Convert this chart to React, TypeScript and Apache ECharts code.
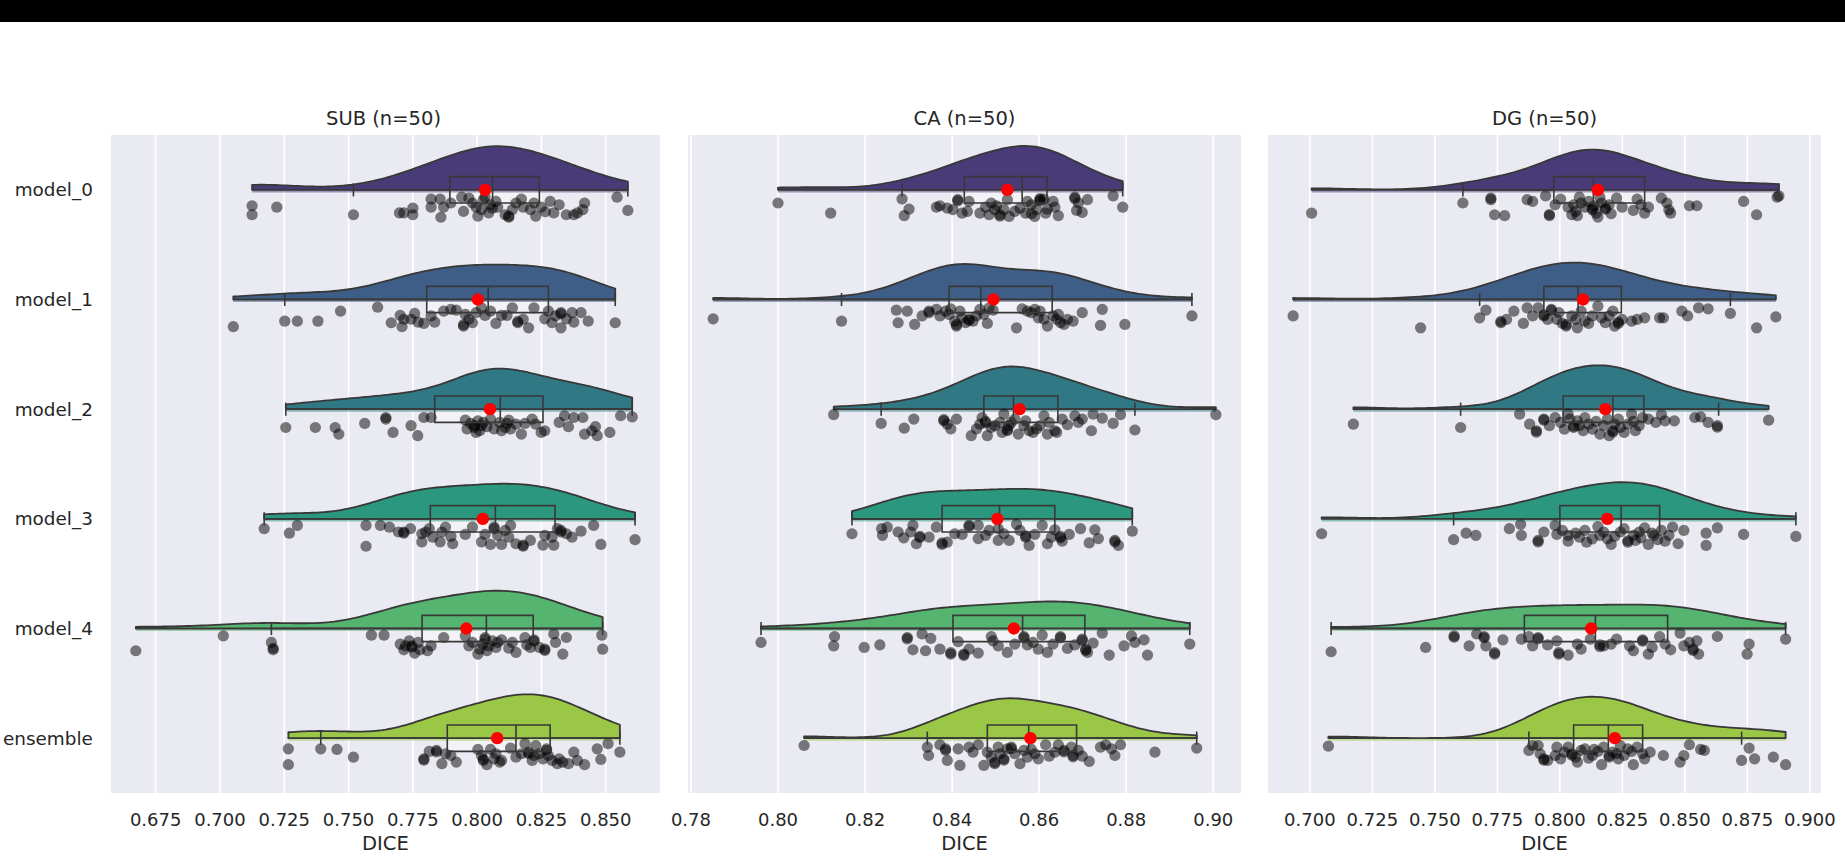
import React, { useEffect, useRef } from "react";
import * as echarts from "echarts";

const CATEGORIES = ["model_0", "model_1", "model_2", "model_3", "model_4", "ensemble"];
const PANEL_TITLES = ["SUB (n=50)", "CA (n=50)", "DG (n=50)"];
const X_LABEL = "DICE";
const SUB_TICKS = [0.675, 0.7, 0.725, 0.75, 0.775, 0.8, 0.825, 0.85];
const CA_TICKS = [0.78, 0.8, 0.82, 0.84, 0.86, 0.88, 0.9];
const DG_TICKS = [0.7, 0.725, 0.75, 0.775, 0.8, 0.825, 0.85, 0.875, 0.9];
const PALETTE = ["#483b78", "#3f5e87", "#307984", "#2c977f", "#55b46f", "#9bc746"];

// [DICE value, jitter below the category line (fraction of band)]
const SUB_M0 = [[0.7125,0.145],[0.7125,0.227],[0.7221,0.158],[0.7519,0.227],[0.7698,0.21],[0.7715,0.21],[0.775,0.167],[0.775,0.227],[0.7821,0.085],[0.7821,0.158],[0.7856,0.085],[0.7859,0.25],[0.787,0.158],[0.7898,0.12],[0.794,0.067],[0.7947,0.197],[0.7968,0.076],[0.7982,0.12],[0.7996,0.158],[0.8003,0.24],[0.8017,0.18],[0.8024,0.09],[0.8031,0.067],[0.8045,0.21],[0.8052,0.136],[0.8059,0.167],[0.8073,0.106],[0.808,0.158],[0.8109,0.227],[0.8123,0.25],[0.8123,0.24],[0.8137,0.18],[0.8151,0.12],[0.8172,0.085],[0.8179,0.158],[0.8207,0.18],[0.8221,0.12],[0.8228,0.24],[0.8249,0.158],[0.8265,0.2],[0.8284,0.106],[0.8298,0.21],[0.8319,0.136],[0.8347,0.227],[0.8376,0.227],[0.839,0.21],[0.8411,0.18],[0.8418,0.12],[0.8544,0.067],[0.8586,0.188]];
const SUB_M1 = [[0.7052,0.248],[0.7252,0.197],[0.7301,0.197],[0.7381,0.197],[0.7469,0.106],[0.7613,0.07],[0.7666,0.212],[0.7701,0.145],[0.7708,0.248],[0.7715,0.18],[0.7743,0.18],[0.7757,0.127],[0.7771,0.206],[0.7793,0.218],[0.7821,0.15],[0.7835,0.206],[0.787,0.106],[0.7898,0.09],[0.7919,0.097],[0.7947,0.242],[0.7947,0.23],[0.7954,0.136],[0.7968,0.18],[0.7982,0.212],[0.7996,0.12],[0.8017,0.076],[0.8031,0.145],[0.8052,0.106],[0.8073,0.218],[0.8095,0.145],[0.8116,0.145],[0.8137,0.076],[0.8158,0.212],[0.8158,0.2],[0.8179,0.18],[0.82,0.258],[0.8221,0.076],[0.8263,0.176],[0.8277,0.106],[0.8291,0.212],[0.8305,0.15],[0.8326,0.12],[0.8326,0.13],[0.8326,0.258],[0.8347,0.176],[0.8369,0.12],[0.8376,0.206],[0.8404,0.12],[0.8432,0.197],[0.8537,0.212]];
const SUB_M2 = [[0.7256,0.167],[0.7371,0.167],[0.7448,0.167],[0.7462,0.227],[0.7563,0.13],[0.7645,0.076],[0.7645,0.09],[0.7673,0.212],[0.7743,0.15],[0.7769,0.242],[0.7793,0.076],[0.7821,0.076],[0.7954,0.1],[0.7961,0.18],[0.7975,0.13],[0.7989,0.167],[0.7989,0.15],[0.7996,0.212],[0.8003,0.106],[0.801,0.197],[0.8017,0.15],[0.8024,0.12],[0.8038,0.16],[0.8052,0.09],[0.8066,0.18],[0.8088,0.12],[0.8095,0.197],[0.8109,0.167],[0.8116,0.13],[0.8123,0.1],[0.813,0.18],[0.8151,0.136],[0.8172,0.227],[0.8186,0.13],[0.8214,0.09],[0.8228,0.136],[0.8249,0.212],[0.8263,0.197],[0.8319,0.12],[0.834,0.06],[0.8355,0.16],[0.8376,0.076],[0.8411,0.076],[0.8418,0.227],[0.8446,0.197],[0.846,0.16],[0.8467,0.242],[0.8516,0.212],[0.8558,0.06],[0.8603,0.07]];
const SUB_M3 = [[0.7172,0.09],[0.727,0.13],[0.7301,0.06],[0.7568,0.06],[0.7568,0.25],[0.7624,0.06],[0.7659,0.076],[0.7694,0.12],[0.7715,0.12],[0.7715,0.13],[0.7741,0.09],[0.7785,0.136],[0.7785,0.21],[0.78,0.12],[0.7814,0.09],[0.7828,0.167],[0.7856,0.21],[0.7863,0.12],[0.7877,0.076],[0.7898,0.16],[0.7905,0.227],[0.7954,0.142],[0.7982,0.076],[0.8017,0.21],[0.8031,0.142],[0.8052,0.233],[0.8066,0.076],[0.8066,0.09],[0.808,0.15],[0.8095,0.233],[0.8109,0.106],[0.8123,0.167],[0.813,0.06],[0.8151,0.227],[0.8179,0.25],[0.8179,0.24],[0.8207,0.197],[0.8256,0.24],[0.8263,0.15],[0.8291,0.167],[0.8298,0.24],[0.8312,0.09],[0.8326,0.12],[0.8326,0.106],[0.8347,0.136],[0.8369,0.167],[0.8404,0.112],[0.8453,0.06],[0.8481,0.233],[0.8614,0.19]];
const SUB_M4 = [[0.6673,0.203],[0.7013,0.067],[0.72,0.127],[0.7207,0.18],[0.7207,0.194],[0.7589,0.06],[0.7638,0.06],[0.7701,0.142],[0.7715,0.194],[0.7722,0.158],[0.7736,0.112],[0.7746,0.158],[0.7746,0.17],[0.7757,0.224],[0.7771,0.127],[0.7778,0.194],[0.7807,0.203],[0.7821,0.158],[0.787,0.082],[0.7954,0.067],[0.7968,0.158],[0.7982,0.127],[0.8003,0.233],[0.801,0.188],[0.8022,0.142],[0.8031,0.082],[0.8031,0.1],[0.8038,0.203],[0.8045,0.158],[0.8059,0.112],[0.8073,0.173],[0.808,0.127],[0.8095,0.103],[0.8123,0.18],[0.8137,0.127],[0.8151,0.218],[0.8186,0.082],[0.8193,0.15],[0.8207,0.173],[0.8221,0.103],[0.8221,0.115],[0.8242,0.173],[0.8263,0.188],[0.8263,0.2],[0.8298,0.05],[0.8305,0.127],[0.8333,0.233],[0.8347,0.082],[0.8485,0.06],[0.8488,0.188]];
const SUB_ENS = [[0.7266,0.097],[0.7266,0.242],[0.7392,0.097],[0.7455,0.103],[0.7519,0.173],[0.7793,0.188],[0.7793,0.2],[0.7814,0.12],[0.7842,0.112],[0.7842,0.125],[0.7863,0.233],[0.7877,0.142],[0.7898,0.158],[0.7919,0.218],[0.8003,0.103],[0.8017,0.158],[0.8024,0.203],[0.8024,0.19],[0.8038,0.242],[0.8052,0.103],[0.8066,0.188],[0.8073,0.142],[0.8088,0.218],[0.8095,0.203],[0.813,0.09],[0.8151,0.173],[0.8172,0.142],[0.8186,0.05],[0.82,0.127],[0.82,0.14],[0.8214,0.203],[0.8221,0.158],[0.8228,0.067],[0.8242,0.142],[0.8256,0.188],[0.827,0.097],[0.827,0.11],[0.8277,0.158],[0.8291,0.203],[0.8312,0.233],[0.8319,0.188],[0.8333,0.218],[0.8355,0.233],[0.8376,0.127],[0.839,0.203],[0.8418,0.242],[0.8467,0.097],[0.8481,0.194],[0.8509,0.05],[0.8555,0.127]];

const CA_M0 = [[0.8,0.12],[0.8121,0.212],[0.8285,0.082],[0.829,0.236],[0.8301,0.176],[0.8364,0.158],[0.8372,0.145],[0.8389,0.167],[0.8402,0.18],[0.8413,0.09],[0.8413,0.1],[0.8423,0.212],[0.8435,0.197],[0.8439,0.106],[0.8464,0.212],[0.8477,0.158],[0.8485,0.227],[0.849,0.12],[0.8498,0.18],[0.8502,0.145],[0.851,0.227],[0.851,0.24],[0.8519,0.18],[0.8527,0.09],[0.8531,0.242],[0.8544,0.197],[0.8556,0.167],[0.8569,0.212],[0.8573,0.106],[0.8582,0.218],[0.8582,0.136],[0.859,0.242],[0.8594,0.18],[0.8602,0.09],[0.8602,0.1],[0.8602,0.08],[0.8611,0.085],[0.8615,0.212],[0.8619,0.176],[0.8632,0.106],[0.8636,0.158],[0.8644,0.236],[0.8682,0.067],[0.8682,0.08],[0.8686,0.188],[0.869,0.12],[0.8699,0.206],[0.8711,0.09],[0.877,0.055],[0.8792,0.158]];
const CA_M1 = [[0.7851,0.176],[0.8146,0.197],[0.8272,0.097],[0.8276,0.212],[0.8297,0.106],[0.8314,0.227],[0.8331,0.15],[0.8347,0.106],[0.8347,0.12],[0.8364,0.09],[0.8372,0.15],[0.8385,0.106],[0.8393,0.136],[0.8397,0.085],[0.8406,0.197],[0.841,0.242],[0.841,0.23],[0.8418,0.106],[0.8423,0.167],[0.8431,0.212],[0.8439,0.18],[0.8439,0.19],[0.8448,0.197],[0.8456,0.15],[0.8464,0.09],[0.8473,0.136],[0.8481,0.218],[0.8485,0.076],[0.8494,0.097],[0.8548,0.258],[0.8561,0.085],[0.8573,0.106],[0.8582,0.12],[0.859,0.09],[0.8598,0.167],[0.8602,0.106],[0.8611,0.18],[0.8619,0.242],[0.8632,0.15],[0.864,0.18],[0.8644,0.136],[0.8649,0.212],[0.8657,0.227],[0.8665,0.18],[0.8678,0.197],[0.8699,0.12],[0.8741,0.236],[0.8745,0.09],[0.8797,0.227],[0.8951,0.15]];
const CA_M2 = [[0.8128,0.05],[0.8237,0.13],[0.829,0.173],[0.8312,0.09],[0.8381,0.106],[0.8381,0.095],[0.8389,0.136],[0.8397,0.18],[0.841,0.09],[0.8444,0.242],[0.8456,0.18],[0.8464,0.136],[0.8469,0.076],[0.8477,0.112],[0.8477,0.125],[0.8481,0.242],[0.849,0.167],[0.8498,0.15],[0.851,0.12],[0.8515,0.212],[0.8519,0.045],[0.8527,0.197],[0.8527,0.185],[0.8531,0.15],[0.8536,0.12],[0.8544,0.09],[0.8552,0.227],[0.8565,0.15],[0.8569,0.106],[0.8577,0.197],[0.8586,0.212],[0.8594,0.18],[0.8602,0.15],[0.8611,0.06],[0.8619,0.227],[0.8623,0.12],[0.8636,0.197],[0.864,0.212],[0.8653,0.09],[0.8665,0.142],[0.8682,0.06],[0.869,0.12],[0.8699,0.09],[0.872,0.197],[0.8724,0.045],[0.8745,0.082],[0.877,0.13],[0.8787,0.05],[0.882,0.19],[0.9006,0.05]];
const CA_M3 = [[0.817,0.136],[0.8238,0.09],[0.824,0.15],[0.8251,0.076],[0.8276,0.12],[0.8289,0.173],[0.8305,0.12],[0.831,0.06],[0.8318,0.227],[0.8326,0.16],[0.8326,0.17],[0.8347,0.167],[0.8364,0.076],[0.8377,0.233],[0.8377,0.22],[0.8389,0.212],[0.8406,0.136],[0.8423,0.142],[0.8439,0.06],[0.8439,0.07],[0.846,0.06],[0.846,0.18],[0.8477,0.15],[0.8485,0.106],[0.8506,0.09],[0.8506,0.197],[0.8519,0.136],[0.8531,0.197],[0.8548,0.05],[0.8556,0.106],[0.8569,0.167],[0.8569,0.155],[0.8577,0.242],[0.859,0.142],[0.8607,0.06],[0.8619,0.227],[0.8628,0.167],[0.8636,0.1],[0.8649,0.173],[0.8649,0.16],[0.8653,0.203],[0.8669,0.142],[0.8695,0.09],[0.8715,0.22],[0.8728,0.1],[0.8736,0.18],[0.8774,0.197],[0.8774,0.21],[0.8782,0.242],[0.8814,0.112]];
const CA_M4 = [[0.7961,0.127],[0.8128,0.158],[0.813,0.073],[0.8198,0.173],[0.8234,0.15],[0.8297,0.082],[0.8297,0.095],[0.831,0.194],[0.8331,0.05],[0.8339,0.203],[0.8351,0.09],[0.8372,0.188],[0.8397,0.233],[0.8397,0.22],[0.8414,0.12],[0.8427,0.233],[0.8427,0.245],[0.8439,0.188],[0.846,0.224],[0.849,0.073],[0.8494,0.112],[0.8506,0.158],[0.8527,0.218],[0.8544,0.142],[0.8565,0.073],[0.8565,0.085],[0.8573,0.15],[0.8586,0.127],[0.8598,0.188],[0.8607,0.06],[0.8619,0.218],[0.8632,0.142],[0.8649,0.073],[0.8649,0.085],[0.8665,0.182],[0.8682,0.15],[0.8699,0.097],[0.8699,0.11],[0.8707,0.188],[0.8707,0.2],[0.8711,0.218],[0.8724,0.133],[0.8745,0.042],[0.8761,0.242],[0.8795,0.158],[0.8812,0.067],[0.882,0.127],[0.8841,0.103],[0.8849,0.242],[0.8946,0.142]];
const CA_ENS = [[0.806,0.067],[0.8343,0.082],[0.8346,0.158],[0.8372,0.06],[0.8385,0.097],[0.8385,0.11],[0.8389,0.203],[0.8414,0.097],[0.8418,0.248],[0.8439,0.082],[0.8448,0.127],[0.846,0.06],[0.8473,0.248],[0.8481,0.127],[0.849,0.173],[0.8498,0.233],[0.8498,0.22],[0.8506,0.082],[0.851,0.142],[0.8519,0.188],[0.8519,0.2],[0.8527,0.097],[0.8536,0.082],[0.8536,0.095],[0.8544,0.142],[0.8556,0.233],[0.8565,0.112],[0.8573,0.173],[0.8582,0.103],[0.859,0.142],[0.8598,0.188],[0.8615,0.06],[0.8623,0.164],[0.8636,0.127],[0.8644,0.06],[0.8657,0.112],[0.8657,0.125],[0.8674,0.082],[0.8678,0.158],[0.8678,0.17],[0.869,0.112],[0.8699,0.164],[0.8715,0.212],[0.8741,0.082],[0.8753,0.06],[0.8766,0.097],[0.8774,0.158],[0.8787,0.06],[0.8866,0.127],[0.8962,0.09]];

const DG_M0 = [[0.7007,0.212],[0.7612,0.12],[0.7724,0.076],[0.7724,0.09],[0.7739,0.227],[0.7779,0.236],[0.7869,0.09],[0.7891,0.106],[0.7943,0.055],[0.7958,0.236],[0.7958,0.225],[0.7981,0.136],[0.8003,0.085],[0.8033,0.158],[0.8048,0.227],[0.8055,0.136],[0.8063,0.197],[0.807,0.236],[0.8078,0.067],[0.8085,0.12],[0.81,0.158],[0.8115,0.106],[0.813,0.182],[0.813,0.17],[0.8137,0.145],[0.8145,0.212],[0.8152,0.248],[0.816,0.067],[0.8167,0.12],[0.8182,0.176],[0.8182,0.165],[0.8197,0.136],[0.8205,0.218],[0.8227,0.076],[0.8249,0.158],[0.8294,0.188],[0.8309,0.085],[0.8324,0.136],[0.8339,0.212],[0.8354,0.158],[0.8406,0.076],[0.8428,0.12],[0.8436,0.182],[0.8443,0.212],[0.8518,0.145],[0.8548,0.145],[0.8735,0.106],[0.8787,0.227],[0.8869,0.067],[0.8876,0.055]];
const DG_M1 = [[0.6933,0.15],[0.7443,0.258],[0.7679,0.167],[0.7704,0.097],[0.7764,0.212],[0.7764,0.2],[0.7787,0.182],[0.7816,0.106],[0.7854,0.218],[0.7869,0.076],[0.7891,0.15],[0.7913,0.076],[0.7936,0.15],[0.7936,0.14],[0.7951,0.182],[0.7966,0.09],[0.7966,0.1],[0.7988,0.182],[0.7996,0.12],[0.801,0.218],[0.8025,0.242],[0.8025,0.23],[0.8048,0.15],[0.8063,0.182],[0.807,0.258],[0.8085,0.106],[0.81,0.197],[0.8115,0.218],[0.813,0.15],[0.8152,0.06],[0.8167,0.167],[0.8182,0.212],[0.8197,0.15],[0.8212,0.106],[0.8219,0.242],[0.8234,0.218],[0.8234,0.205],[0.8249,0.182],[0.8287,0.197],[0.8309,0.182],[0.8339,0.167],[0.8399,0.167],[0.8414,0.167],[0.8488,0.106],[0.8511,0.15],[0.8555,0.076],[0.8593,0.085],[0.8682,0.127],[0.8787,0.258],[0.8864,0.158]];
const DG_M2 = [[0.7174,0.136],[0.7603,0.167],[0.7839,0.045],[0.7879,0.136],[0.7906,0.197],[0.7906,0.21],[0.7936,0.09],[0.7936,0.1],[0.7958,0.15],[0.7981,0.076],[0.8003,0.12],[0.8018,0.182],[0.8033,0.045],[0.804,0.09],[0.8055,0.167],[0.8055,0.155],[0.807,0.106],[0.8078,0.15],[0.8093,0.197],[0.81,0.076],[0.8115,0.136],[0.813,0.182],[0.8145,0.112],[0.816,0.227],[0.8175,0.15],[0.819,0.09],[0.8197,0.242],[0.8212,0.197],[0.8212,0.21],[0.8219,0.136],[0.8234,0.09],[0.8242,0.167],[0.8257,0.212],[0.8272,0.136],[0.8287,0.045],[0.8294,0.112],[0.8302,0.197],[0.8317,0.15],[0.8331,0.076],[0.8354,0.09],[0.8384,0.12],[0.8406,0.05],[0.8421,0.106],[0.8458,0.106],[0.854,0.076],[0.8563,0.07],[0.8593,0.12],[0.863,0.15],[0.863,0.165],[0.8835,0.1]];
const DG_M3 = [[0.7047,0.136],[0.7575,0.19],[0.7625,0.13],[0.7664,0.15],[0.7798,0.09],[0.7843,0.05],[0.7846,0.15],[0.7913,0.197],[0.7913,0.21],[0.7936,0.12],[0.7981,0.06],[0.7988,0.142],[0.801,0.106],[0.8033,0.15],[0.8033,0.203],[0.8063,0.13],[0.8078,0.167],[0.81,0.106],[0.8107,0.212],[0.813,0.182],[0.8152,0.07],[0.816,0.15],[0.8175,0.12],[0.819,0.182],[0.8205,0.233],[0.8219,0.16],[0.8242,0.12],[0.8257,0.09],[0.8272,0.212],[0.8272,0.2],[0.8294,0.15],[0.8302,0.197],[0.8317,0.12],[0.8324,0.173],[0.8339,0.082],[0.8354,0.233],[0.8369,0.13],[0.8376,0.15],[0.8391,0.19],[0.8406,0.106],[0.8421,0.203],[0.8436,0.15],[0.8451,0.076],[0.8473,0.227],[0.8496,0.106],[0.8585,0.13],[0.8585,0.242],[0.863,0.082],[0.8735,0.142],[0.8944,0.16]];
const DG_M4 = [[0.7085,0.212],[0.7463,0.173],[0.7577,0.067],[0.7577,0.08],[0.7637,0.158],[0.7667,0.05],[0.7697,0.073],[0.7697,0.085],[0.7704,0.158],[0.7739,0.233],[0.7739,0.22],[0.7772,0.103],[0.7846,0.097],[0.7876,0.073],[0.7891,0.158],[0.7913,0.082],[0.7913,0.095],[0.7951,0.15],[0.7988,0.112],[0.7996,0.233],[0.7996,0.22],[0.8033,0.242],[0.807,0.142],[0.8085,0.188],[0.8122,0.097],[0.816,0.15],[0.816,0.165],[0.8175,0.158],[0.8205,0.142],[0.8227,0.097],[0.8279,0.158],[0.8294,0.203],[0.8331,0.103],[0.8331,0.115],[0.8354,0.233],[0.8369,0.173],[0.8399,0.073],[0.8421,0.142],[0.8443,0.194],[0.8481,0.042],[0.8496,0.158],[0.8518,0.127],[0.8533,0.188],[0.8533,0.2],[0.8548,0.112],[0.8555,0.233],[0.863,0.073],[0.8749,0.233],[0.8757,0.142],[0.8903,0.097]];
const DG_ENS = [[0.7074,0.073],[0.7876,0.112],[0.7891,0.067],[0.7913,0.067],[0.7921,0.142],[0.7936,0.188],[0.7936,0.2],[0.7951,0.203],[0.7981,0.158],[0.7988,0.082],[0.8003,0.188],[0.8018,0.127],[0.8033,0.082],[0.8048,0.142],[0.8048,0.155],[0.8063,0.173],[0.807,0.218],[0.8085,0.112],[0.81,0.097],[0.8115,0.182],[0.813,0.158],[0.8137,0.103],[0.8152,0.121],[0.8167,0.242],[0.8175,0.082],[0.8197,0.173],[0.8197,0.16],[0.8212,0.127],[0.8227,0.142],[0.8234,0.188],[0.8242,0.067],[0.8257,0.158],[0.8272,0.097],[0.8287,0.121],[0.8294,0.242],[0.8309,0.082],[0.8331,0.142],[0.8339,0.188],[0.8361,0.127],[0.8414,0.158],[0.8481,0.218],[0.8496,0.158],[0.8518,0.06],[0.8563,0.103],[0.8578,0.112],[0.8727,0.203],[0.8757,0.09],[0.8779,0.188],[0.8854,0.173],[0.8903,0.242]];

// box stats: [lower whisker, Q1, median, Q3, upper whisker]
const SUB_BOX = [[0.7519,0.7894,0.806,0.8242,0.8586],[0.7252,0.7804,0.8043,0.8277,0.8537],[0.7256,0.7835,0.809,0.8256,0.8603],[0.7172,0.7818,0.8071,0.8303,0.8614],[0.72,0.7786,0.8036,0.8218,0.8488],[0.7392,0.7884,0.8151,0.8284,0.8555]];
const CA_BOX = [[0.8285,0.8428,0.8561,0.8618,0.8792],[0.8146,0.8393,0.8466,0.863,0.8951],[0.8237,0.8473,0.8541,0.8643,0.882],[0.817,0.8377,0.8509,0.8636,0.8814],[0.7961,0.8402,0.8562,0.8705,0.8946],[0.8343,0.8481,0.8576,0.8686,0.8962]];
const DG_BOX = [[0.7612,0.7976,0.8134,0.8339,0.8876],[0.7679,0.7936,0.8073,0.8246,0.8682],[0.7603,0.8013,0.8212,0.8336,0.8635],[0.7575,0.8,0.8245,0.8399,0.8944],[0.7085,0.7858,0.8142,0.8431,0.8903],[0.7876,0.8055,0.8194,0.8331,0.8727]];
const SUB_MEAN = [0.8031, 0.8003, 0.805, 0.8022, 0.7958, 0.8078];
const CA_MEAN = [0.8527, 0.8495, 0.8555, 0.8504, 0.8542, 0.858];
const DG_MEAN = [0.8152, 0.8093, 0.8182, 0.819, 0.8125, 0.822];

const PANELS = [
  { title: PANEL_TITLES[0], rows: [SUB_M0, SUB_M1, SUB_M2, SUB_M3, SUB_M4, SUB_ENS], box: SUB_BOX, means: SUB_MEAN, ticks: SUB_TICKS, dec: 3 },
  { title: PANEL_TITLES[1], rows: [CA_M0, CA_M1, CA_M2, CA_M3, CA_M4, CA_ENS], box: CA_BOX, means: CA_MEAN, ticks: CA_TICKS, dec: 2 },
  { title: PANEL_TITLES[2], rows: [DG_M0, DG_M1, DG_M2, DG_M3, DG_M4, DG_ENS], box: DG_BOX, means: DG_MEAN, ticks: DG_TICKS, dec: 3 },
];

const GRID_LEFTS = [107, 688, 1268];
const GRID_W = 553;
const GRID_TOP = 135;
const GRID_H = 662;
const FONT = "DejaVu Sans";
const TEXT = "#262626";
const EDGE = "#383838";
const VIOLIN_MAX = 0.4;
const BOX_HALF = 0.12;

function kdeCurve(values: number[], gridsize = 100) {
  const n = values.length;
  const mean = values.reduce((a, b) => a + b, 0) / n;
  const sd = Math.sqrt(values.reduce((a, b) => a + (b - mean) * (b - mean), 0) / (n - 1));
  const bw = sd * Math.pow(n, -1 / 5);
  const lo = Math.min(...values);
  const hi = Math.max(...values);
  const xs: number[] = [];
  const ds: number[] = [];
  for (let i = 0; i < gridsize; i++) {
    const x = lo + ((hi - lo) * i) / (gridsize - 1);
    let s = 0;
    for (const v of values) {
      const z = (x - v) / bw;
      s += Math.exp(-0.5 * z * z);
    }
    xs.push(x);
    ds.push(s / (n * bw * Math.sqrt(2 * Math.PI)));
  }
  return { xs, ds };
}

function buildOption() {
  const grid: any[] = [];
  const xAxis: any[] = [];
  const yAxis: any[] = [];
  const series: any[] = [];
  const graphic: any[] = [
    { type: "rect", shape: { x: 0, y: 0, width: 1845, height: 22 }, style: { fill: "#000" }, silent: true, z: 100 },
  ];

  PANELS.forEach((p, i) => {
    const all = p.rows.flat().map((d) => d[0]);
    const lo = Math.min(...all);
    const hi = Math.max(...all);
    const pad = (hi - lo) * 0.05;
    grid.push({ left: GRID_LEFTS[i], top: GRID_TOP, width: GRID_W, height: GRID_H, show: true, backgroundColor: "#eaeaf2", borderWidth: 0 });
    xAxis.push({
      type: "value",
      gridIndex: i,
      min: lo - pad,
      max: hi + pad,
      axisLine: { show: false },
      axisTick: { show: false },
      splitLine: { show: false },
      axisLabel: {
        customValues: p.ticks,
        formatter: (v: number) => v.toFixed(p.dec),
        fontSize: 18,
        color: TEXT,
        fontFamily: FONT,
        margin: 17,
      },
      name: X_LABEL,
      nameLocation: "middle",
      nameGap: 40,
      nameTextStyle: { fontSize: 19.5, color: TEXT, fontFamily: FONT },
    });
    yAxis.push({
      type: "category",
      gridIndex: i,
      data: CATEGORIES,
      inverse: true,
      axisLine: { show: false },
      axisTick: { show: false },
      splitLine: { show: false },
      axisLabel: { show: i === 0, fontSize: 18.4, color: TEXT, fontFamily: FONT, margin: 18 },
    });

    const kdes = p.rows.map((r) => kdeCurve(r.map((d) => d[0])));
    const gmax = Math.max(...kdes.map((k) => Math.max(...k.ds)));

    // vertical grid lines at the tick values
    series.push({
      type: "custom",
      xAxisIndex: i,
      yAxisIndex: i,
      z: 1,
      silent: true,
      data: p.ticks.map((t) => [t, 0]),
      renderItem: (params: any, api: any) => {
        const x = api.coord([api.value(0), 0])[0];
        const cs = params.coordSys;
        return { type: "line", shape: { x1: x, y1: cs.y, x2: x, y2: cs.y + cs.height }, style: { stroke: "#ffffff", lineWidth: 1.6 } };
      },
    });

    // half violins (with the box face beneath)
    series.push({
      type: "custom",
      xAxisIndex: i,
      yAxisIndex: i,
      z: 2,
      silent: true,
      data: p.rows.map((r, ri) => [p.box[ri][1], ri]),
      renderItem: (params: any, api: any) => {
        const ri = params.dataIndex;
        const k = kdes[ri];
        const band = api.size([0, 1])[1];
        const y0 = api.coord([k.xs[0], ri])[1];
        const xa = api.coord([k.xs[0], ri])[0];
        const xb = api.coord([k.xs[k.xs.length - 1], ri])[0];
        const pts: number[][] = [];
        pts.push([xa, y0]);
        for (let j = 0; j < k.xs.length; j++) {
          pts.push([api.coord([k.xs[j], ri])[0], y0 - (k.ds[j] / gmax) * VIOLIN_MAX * band]);
        }
        pts.push([xb, y0]);
        const b = p.box[ri];
        const xq1 = api.coord([b[1], ri])[0];
        const xq3 = api.coord([b[3], ri])[0];
        const hh = BOX_HALF * band;
        return {
          type: "group",
          children: [
            { type: "rect", shape: { x: xq1, y: y0 - hh, width: xq3 - xq1, height: 2 * hh }, style: { fill: "rgba(255,255,255,0.4)" } },
            { type: "rect", shape: { x: xa, y: y0, width: xb - xa, height: 2.6 }, style: { fill: PALETTE[ri], opacity: 0.5 } },
            { type: "polygon", shape: { points: pts }, style: { fill: PALETTE[ri], stroke: EDGE, lineWidth: 1.8, lineJoin: "round" } },
          ],
        };
      },
    });

    // jittered points
    const dots: number[][] = [];
    p.rows.forEach((r, ri) => r.forEach((d) => dots.push([d[0], ri, d[1]])));
    series.push({
      type: "custom",
      xAxisIndex: i,
      yAxisIndex: i,
      z: 3,
      silent: true,
      data: dots,
      renderItem: (params: any, api: any) => {
        const c = api.coord([api.value(0), api.value(1)]);
        const band = api.size([0, 1])[1];
        return { type: "circle", shape: { cx: c[0], cy: c[1] + api.value(2) * band, r: 5.6 }, style: { fill: "rgba(0,0,0,0.5)" } };
      },
    });

    // boxplots and means
    series.push({
      type: "custom",
      xAxisIndex: i,
      yAxisIndex: i,
      z: 4,
      silent: true,
      data: p.box.map((b, ri) => [b[0], ri, b[1], b[2], b[3], b[4], p.means[ri]]),
      renderItem: (params: any, api: any) => {
        const ri = params.dataIndex;
        const band = api.size([0, 1])[1];
        const X = (v: number) => api.coord([v, ri])[0];
        const y0 = api.coord([api.value(0), ri])[1];
        const hh = BOX_HALF * band;
        const ch = hh / 2;
        const xl = X(api.value(0)), x1 = X(api.value(2)), xm = X(api.value(3)), x3 = X(api.value(4)), xh = X(api.value(5));
        const ls = { stroke: EDGE, lineWidth: 1.6 };
        return {
          type: "group",
          children: [
            { type: "line", shape: { x1: xl, y1: y0, x2: x1, y2: y0 }, style: ls },
            { type: "line", shape: { x1: x3, y1: y0, x2: xh, y2: y0 }, style: ls },
            { type: "line", shape: { x1: xl, y1: y0 - ch, x2: xl, y2: y0 + ch }, style: ls },
            { type: "line", shape: { x1: xh, y1: y0 - ch, x2: xh, y2: y0 + ch }, style: ls },
            { type: "rect", shape: { x: x1, y: y0 - hh, width: x3 - x1, height: 2 * hh }, style: { fill: "none", stroke: EDGE, lineWidth: 1.6 } },
            { type: "line", shape: { x1: xm, y1: y0 - hh, x2: xm, y2: y0 + hh }, style: ls },
            { type: "circle", shape: { cx: X(api.value(6)), cy: y0, r: 6.2 }, style: { fill: "#ff0000" } },
          ],
        };
      },
    });

    graphic.push({
      type: "text",
      x: GRID_LEFTS[i] + GRID_W / 2,
      y: 118,
      silent: true,
      style: { text: p.title, fontSize: 19.5, fontFamily: FONT, fill: TEXT, align: "center", verticalAlign: "middle", textAlign: "center", textVerticalAlign: "middle" },
    });
  });

  return { animation: false, backgroundColor: "#ffffff", grid, xAxis, yAxis, series, graphic };
}

export default function App() {
  const ref = useRef<HTMLDivElement>(null);
  useEffect(() => {
    const chart = echarts.init(ref.current as HTMLDivElement, null, { renderer: "svg" });
    chart.setOption(buildOption() as any);
    return () => chart.dispose();
  }, []);
  return <div ref={ref} style={{ position: "fixed", left: 0, top: 0, width: 1845, height: 858, background: "#fff" }} />;
}
